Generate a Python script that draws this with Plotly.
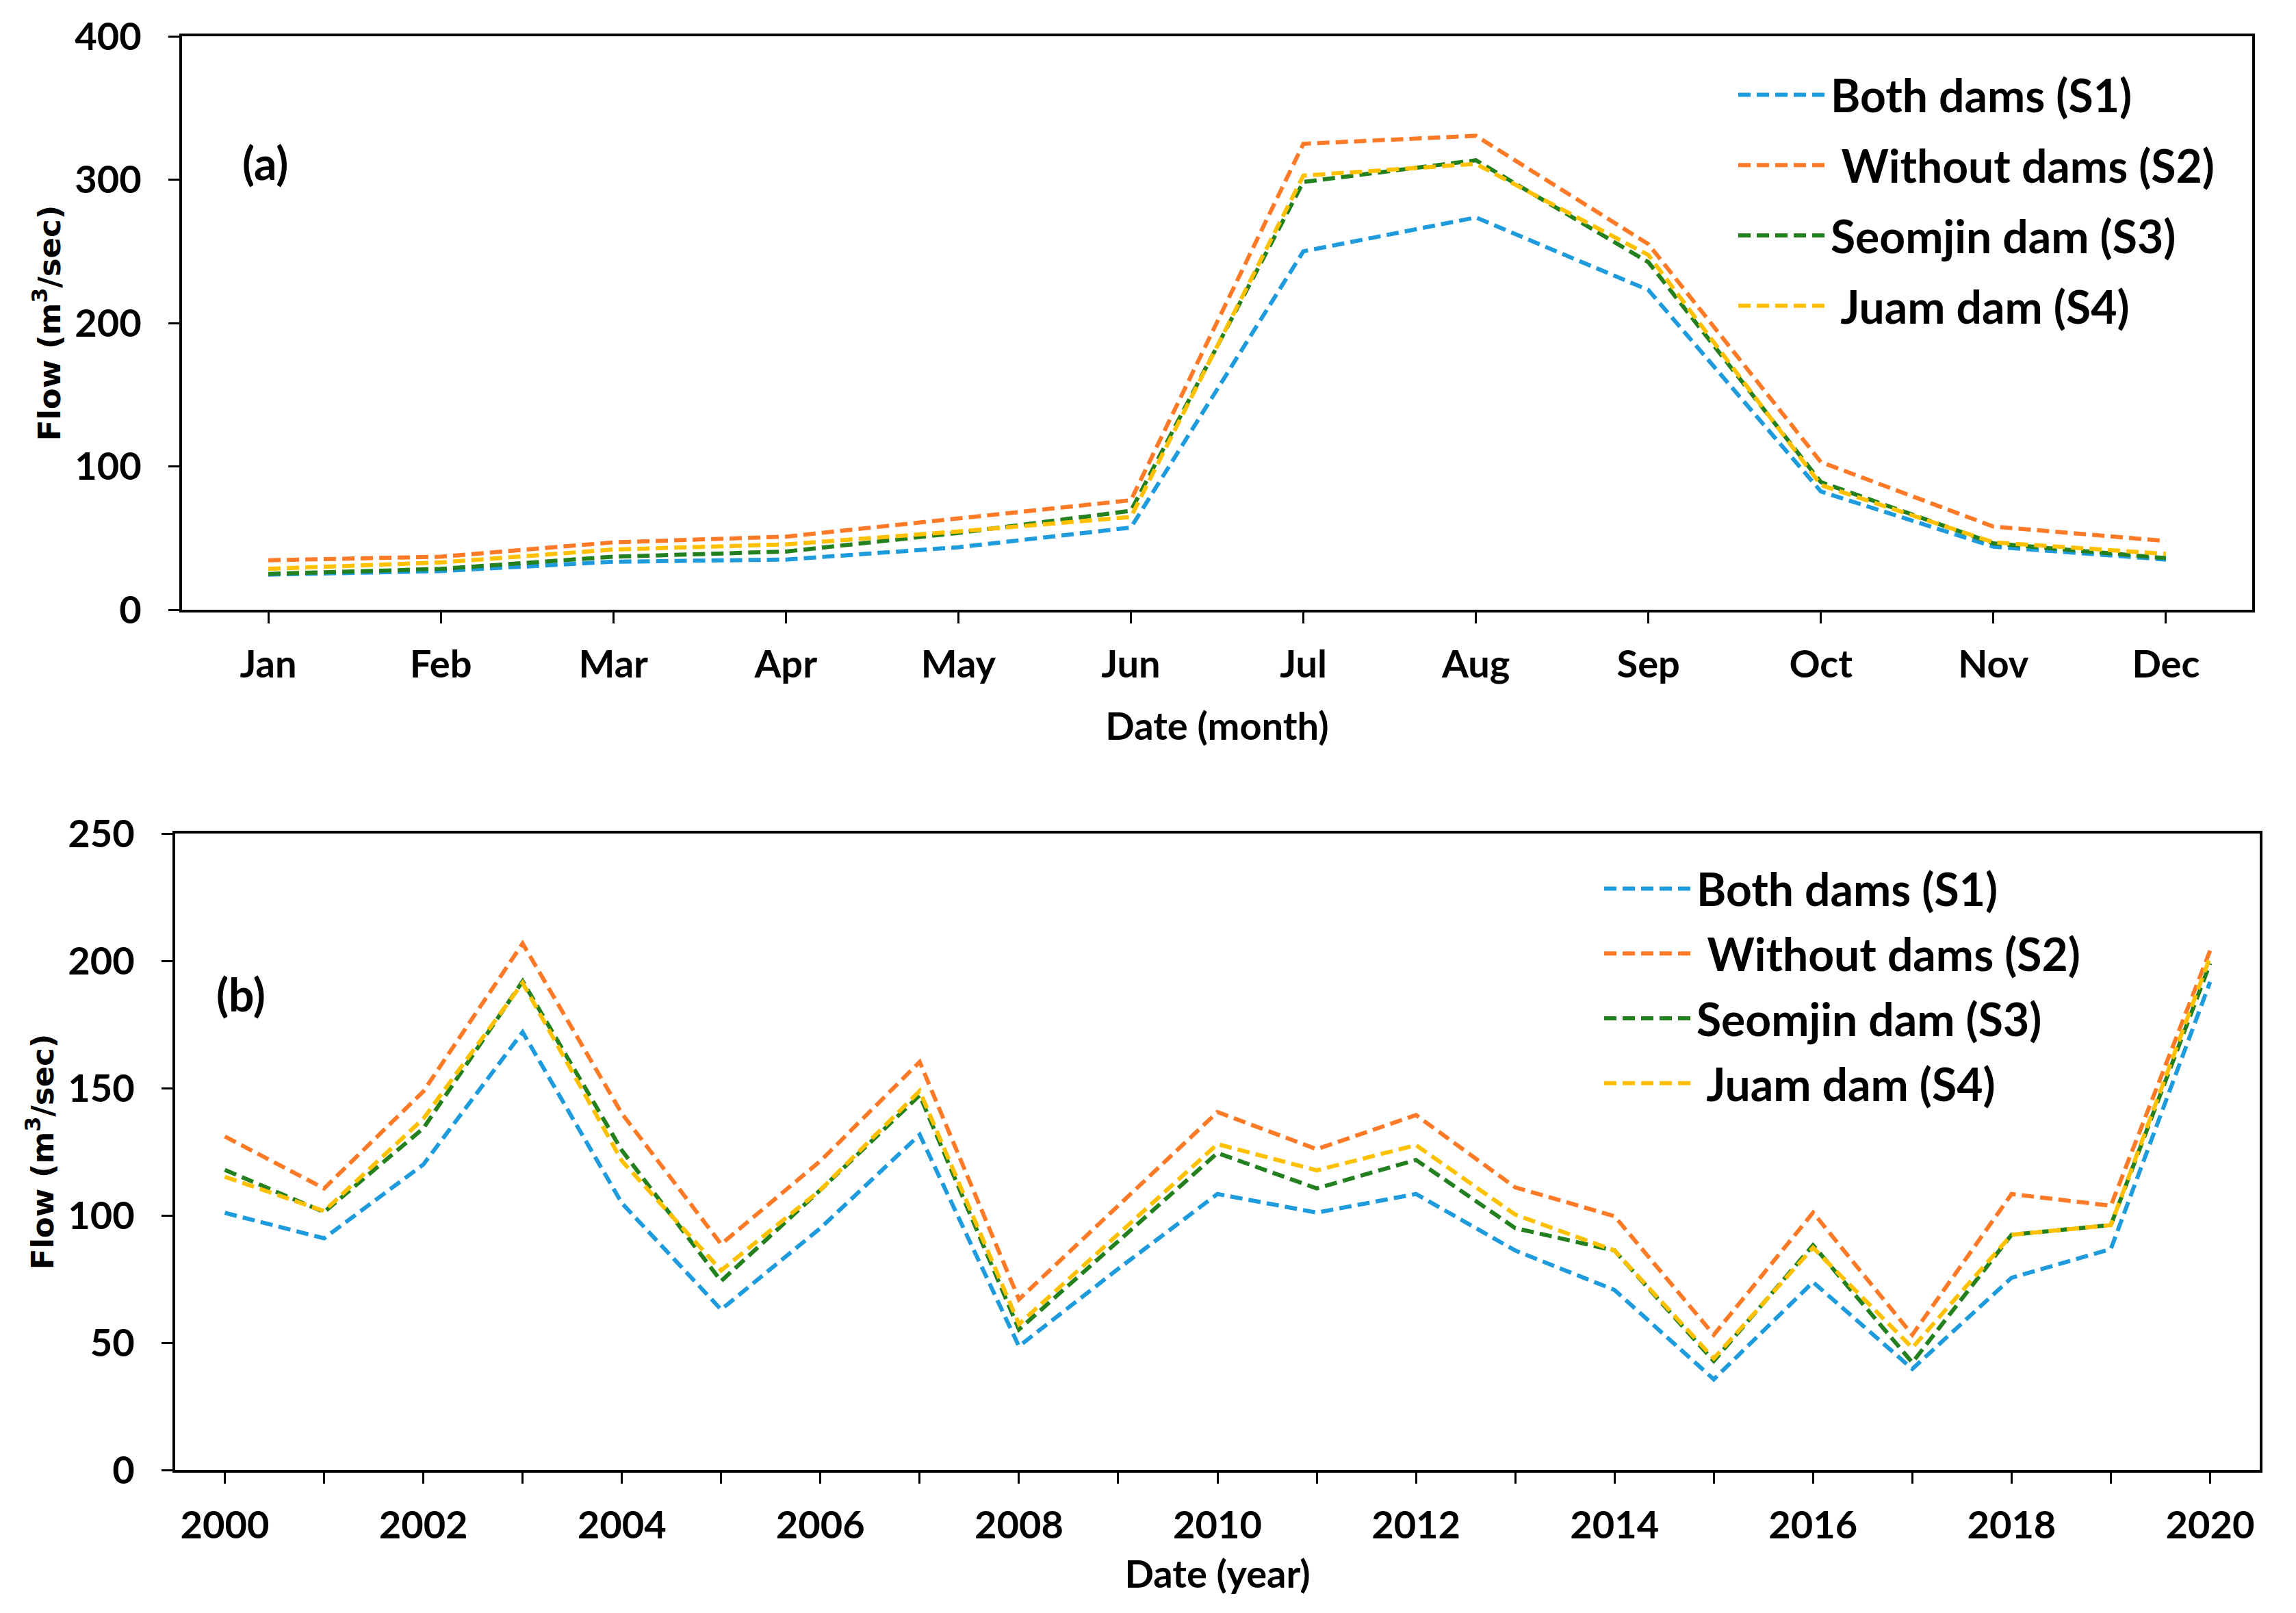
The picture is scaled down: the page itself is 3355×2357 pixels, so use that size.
import plotly.graph_objects as go

# ---------------- data ----------------
months = ["Jan", "Feb", "Mar", "Apr", "May", "Jun", "Jul", "Aug", "Sep", "Oct", "Nov", "Dec"]
s1_month = [24.5, 27.0, 33.5, 35.0, 43.6, 57.3, 250.0, 273.6, 223.0, 82.5, 44.0, 35.0]
s2_month = [34.5, 37.0, 47.0, 51.0, 63.7, 76.4, 325.0, 330.6, 255.0, 103.0, 58.0, 48.0]
s3_month = [25.0, 28.5, 37.0, 40.6, 53.6, 69.0, 298.4, 313.5, 242.4, 89.0, 46.3, 36.0]
s4_month = [28.5, 33.0, 42.0, 45.6, 54.6, 64.7, 302.8, 311.0, 247.4, 87.0, 47.0, 39.0]

years = [2000, 2001, 2002, 2003, 2004, 2005, 2006, 2007, 2008, 2009, 2010,
         2011, 2012, 2013, 2014, 2015, 2016, 2017, 2018, 2019, 2020]
s1_year = [101.0, 91.0, 120.0, 172.0, 104.8, 63.0, 95.0, 131.7, 48.6, 79.0, 108.4,
           101.1, 108.4, 86.2, 70.7, 35.6, 73.8, 39.7, 75.5, 86.8, 191.7]
s2_year = [131.0, 110.6, 148.7, 206.8, 140.0, 88.7, 121.4, 160.3, 67.0, 104.0, 140.6,
           126.0, 139.4, 111.0, 99.7, 53.1, 101.1, 53.1, 108.4, 103.8, 204.0]
s3_year = [117.9, 101.3, 134.2, 192.0, 125.5, 74.2, 110.0, 147.2, 55.2, 90.0, 124.5,
           110.6, 121.8, 95.0, 86.2, 42.8, 88.3, 42.2, 92.4, 96.2, 199.0]
s4_year = [115.2, 101.7, 138.0, 191.3, 121.4, 78.4, 110.0, 148.9, 57.3, 92.6, 128.0,
           117.7, 127.6, 100.3, 86.2, 43.8, 87.3, 48.0, 92.4, 96.2, 201.6]

series_names = ["Both dams (S1)", "\u00a0Without dams (S2)", "Seomjin dam (S3)", "\u00a0Juam dam (S4)"]
series_colors = ["#1E9BDC", "#FF7A26", "#23801F", "#FFC000"]

y1_ticks = [0, 100, 200, 300, 400]
y2_ticks = [0, 50, 100, 150, 200, 250]

# ---------------- geometry (page has an 8 px body margin) ----------------
W, H = 3339, 2341
OFF = 8


def fx(p):
    return (p - OFF) / W


def fy(p):
    return 1 - (p - OFF) / H


# ---------------- styles ----------------
LBL = dict(family="Lato, Calibri, Carlito, sans-serif", size=56, color="black", weight="bold")
LEG = dict(family="Lato, Calibri, Carlito, sans-serif", size=66, color="black", weight="bold")
YT = dict(family="DejaVu Sans, Verdana, sans-serif", size=45, color="black", weight="bold")
DASH = "18px,9px"
LW = 6

fig = go.Figure()

monthly = [s1_month, s2_month, s3_month, s4_month]
yearly = [s1_year, s2_year, s3_year, s4_year]
for i in range(4):
    fig.add_trace(go.Scatter(
        x=months, y=monthly[i], mode="lines", name=series_names[i],
        line=dict(color=series_colors[i], width=LW, dash=DASH),
        xaxis="x", yaxis="y", legend="legend", legendgroup="a%d" % i))
for i in range(4):
    fig.add_trace(go.Scatter(
        x=years, y=yearly[i], mode="lines", name=series_names[i],
        line=dict(color=series_colors[i], width=LW, dash=DASH),
        xaxis="x2", yaxis="y2", legend="legend2", legendgroup="b%d" % i))

axis_common = dict(showline=True, linecolor="black", linewidth=4, mirror=True,
                   showgrid=False, zeroline=False, ticks="outside", tickcolor="black",
                   tickwidth=3, ticklen=16, tickfont=LBL, automargin=False)

fig.update_layout(
    width=W, height=H, autosize=False,
    margin=dict(l=0, r=0, t=0, b=0, autoexpand=False),
    paper_bgcolor="white", plot_bgcolor="white",
    xaxis=dict(domain=[fx(266), fx(3291)], anchor="y", type="category",
               range=[-0.5, 11.5], ticklabelstandoff=12,
               title=dict(text="Date (month)", font=LBL, standoff=42),
               **axis_common),
    yaxis=dict(domain=[fy(891), fy(53)], anchor="x", range=[0, 400],
               tickvals=y1_ticks, ticklabelstandoff=28,
               title=dict(text="Flow (m<sup>3</sup>/sec)", font=YT, standoff=8),
               **axis_common),
    xaxis2=dict(domain=[fx(256), fx(3302)], anchor="y2", range=[1999.5, 2020.5],
                tickmode="linear", tick0=2000, dtick=2,
                minor=dict(ticks="outside", dtick=1, tick0=2000, ticklen=16,
                           tickwidth=3, tickcolor="black", showgrid=False),
                ticklabelstandoff=13,
                title=dict(text="Date (year)", font=LBL, standoff=23),
                **axis_common),
    yaxis2=dict(domain=[fy(2148), fy(1218)], anchor="x2", range=[0, 250],
                tickvals=y2_ticks, ticklabelstandoff=28,
                title=dict(text="Flow (m<sup>3</sup>/sec)", font=YT, standoff=8),
                **axis_common),
    legend=dict(x=fx(2535), y=fy(89), xanchor="left", yanchor="top", font=LEG,
                itemwidth=130, bgcolor="rgba(0,0,0,0)", tracegroupgap=14,
                traceorder="grouped"),
    legend2=dict(x=fx(2339), y=fy(1249), xanchor="left", yanchor="top", font=LEG,
                 itemwidth=130, bgcolor="rgba(0,0,0,0)", tracegroupgap=6,
                 traceorder="grouped"),
    showlegend=True,
)

PANEL = dict(family="Lato, Calibri, sans-serif", size=66, color="black", weight="bold")
fig.add_annotation(text="(a)", xref="paper", yref="paper", x=fx(387), y=fy(237),
                   xanchor="center", yanchor="middle", showarrow=False, font=PANEL)
fig.add_annotation(text="(b)", xref="paper", yref="paper", x=fx(352), y=fy(1452),
                   xanchor="center", yanchor="middle", showarrow=False, font=PANEL)

fig.write_html("out.html")
